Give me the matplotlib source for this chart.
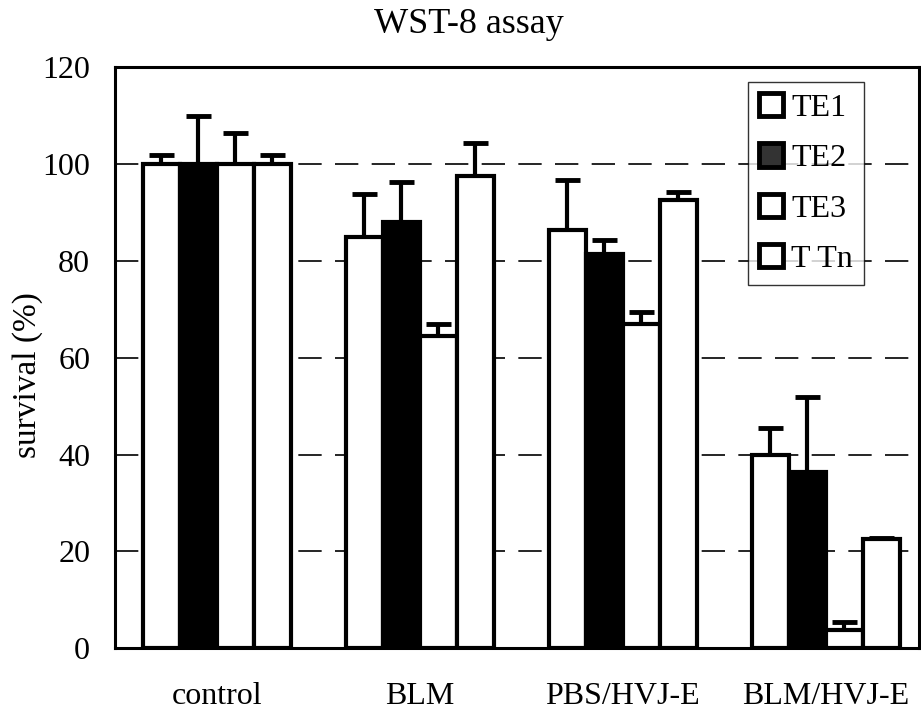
import numpy as np
import matplotlib.pyplot as plt

# waarden
groups = ["control", "BLM", "PBS/HVJ-E", "BLM/HVJ-E"]
series = ["TE1", "TE2", "TE3", "T Tn"]
te1 = [100, 85, 86.5, 40]
te2 = [100, 88, 81.5, 36.5]
te3 = [100, 64.5, 67, 3.8]
ttn = [100, 97.5, 92.5, 22.5]
err_te1 = [2, 8.8, 10.3, 5.5]
err_te2 = [10, 8.4, 2.8, 15.5]
err_te3 = [6.5, 2.5, 2.5, 1.6]
err_ttn = [2, 6.8, 1.7, 0.3]

values = [te1, te2, te3, ttn]
errors = [err_te1, err_te2, err_te3, err_ttn]
colors = ["white", "black", "white", "white"]
legend_colors = ["white", "#333333", "white", "white"]

plt.rcParams["font.family"] = ["Liberation Serif", "DejaVu Serif"]

fig = plt.figure(figsize=(9.21, 7.17), dpi=100)
ax = fig.add_axes([0.125, 0.096, 0.873, 0.81])

x = np.arange(len(groups))
w = 0.182
for i in range(4):
    pos = x + (i - 1.5) * w
    ax.bar(pos, values[i], width=w, color=colors[i], edgecolor="black",
           linewidth=3, zorder=3)
    ax.errorbar(pos, values[i], yerr=[np.zeros(4), errors[i]], fmt="none",
                ecolor="black", elinewidth=3, capsize=9, capthick=3.5, zorder=2)

ax.set_ylim(0, 120)
ax.set_xlim(-0.50, 3.46)
ax.set_yticks(range(0, 121, 20))
ax.yaxis.grid(True, linestyle=(0, (14, 8)), color="black", linewidth=1.2, zorder=0)
ax.set_axisbelow(True)
ax.set_xticks(x)
ax.set_xticklabels(groups)
ax.tick_params(axis="both", length=0, labelsize=23)
ax.tick_params(axis="y", pad=18)
ax.tick_params(axis="x", pad=24)
for s in ax.spines.values():
    s.set_linewidth(2.2)
ax.set_ylabel("survival (%)", fontsize=24)
ax.yaxis.set_label_coords(-0.09, 0.47)
ax.text(0.44, 1.045, "WST-8 assay", transform=ax.transAxes, fontsize=26,
        ha="center", va="bottom")

handles = [plt.Rectangle((0, 0), 1, 1, facecolor=c, edgecolor="black", linewidth=3.5)
           for c in legend_colors]
leg = ax.legend(handles, series, loc="upper left", bbox_to_anchor=(0.787, 0.975),
                fontsize=23, handlelength=0.75, handleheight=0.75, handletextpad=0.25,
                labelspacing=0.64, frameon=True, fancybox=False, borderpad=0.35,
                borderaxespad=0)
leg.get_frame().set_edgecolor("black")
leg.get_frame().set_linewidth(1)

plt.savefig("out.png", dpi=100)
